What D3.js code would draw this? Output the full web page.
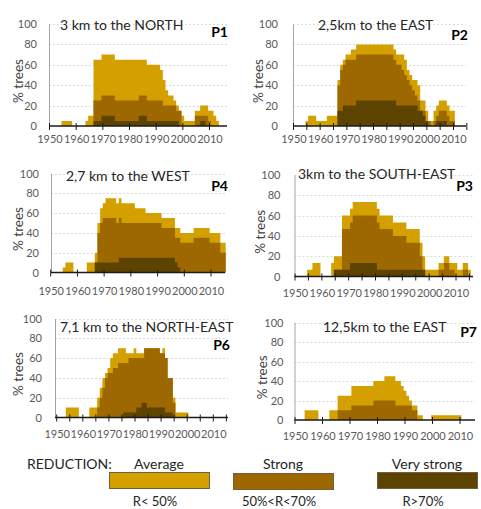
<!DOCTYPE html>
<html>
<head>
<meta charset="utf-8">
<script src="https://cdn.jsdelivr.net/npm/d3@7"></script>
<style>
  body { margin: 0; background: #fff; }
  svg text { font-family: Lato, "Open Sans", sans-serif; }
</style>
</head>
<body>
<div class="chart"></div>
<script>
// Step 0: data (% of trees per year, 1950-2015)
//= ================================
var years = [
  1950, 1951, 1952, 1953, 1954, 1955, 1956, 1957, 1958, 1959,
  1960, 1961, 1962, 1963, 1964, 1965, 1966, 1967, 1968, 1969,
  1970, 1971, 1972, 1973, 1974, 1975, 1976, 1977, 1978, 1979,
  1980, 1981, 1982, 1983, 1984, 1985, 1986, 1987, 1988, 1989,
  1990, 1991, 1992, 1993, 1994, 1995, 1996, 1997, 1998, 1999,
  2000, 2001, 2002, 2003, 2004, 2005, 2006, 2007, 2008, 2009,
  2010, 2011, 2012, 2013, 2014, 2015];

var xTickLabels = [1950, 1960, 1970, 1980, 1990, 2000, 2010];
var decadeMarks = [1950, 1960, 1970, 1980, 1990, 2000, 2010];
var fiveYearMarks = [1950, 1955, 1960, 1965, 1970, 1975, 1980, 1985, 1990, 1995, 2000, 2005, 2010, 2015];
var yTickLabels = [0, 20, 40, 60, 80, 100];

// P1 - 3 km to the NORTH
var p1Average = [
  0, 0, 0, 0, 0, 5, 5, 5, 5, 0,
  0, 0, 0, 0, 5, 10, 10, 65, 65, 65,
  70, 70, 70, 70, 70, 65, 65, 65, 65, 65,
  65, 65, 65, 65, 65, 65, 65, 60, 60, 60,
  60, 60, 55, 45, 35, 30, 30, 25, 20, 15,
  10, 5, 5, 5, 5, 15, 15, 20, 20, 20,
  15, 15, 10, 5, 0, 0];
var p1Strong = [
  0, 0, 0, 0, 0, 0, 0, 0, 0, 0,
  0, 0, 0, 0, 0, 0, 0, 25, 25, 25,
  30, 30, 30, 30, 30, 25, 25, 25, 25, 25,
  25, 25, 25, 25, 30, 30, 30, 25, 25, 25,
  25, 25, 25, 20, 20, 20, 20, 20, 15, 15,
  0, 0, 0, 0, 0, 10, 10, 10, 10, 10,
  5, 0, 0, 0, 0, 0];
var p1VeryStrong = [
  0, 0, 0, 0, 0, 0, 0, 0, 0, 0,
  0, 0, 0, 0, 0, 0, 0, 5, 5, 5,
  10, 10, 10, 10, 10, 5, 5, 5, 5, 5,
  5, 5, 5, 5, 10, 10, 10, 5, 5, 5,
  5, 5, 5, 5, 5, 5, 5, 5, 5, 0,
  0, 0, 0, 0, 0, 0, 0, 5, 5, 0,
  0, 0, 0, 0, 0, 0];

// P2 - 2,5km to the EAST
var p2Average = [
  0, 0, 0, 0, 0, 5, 10, 10, 10, 5,
  5, 5, 5, 10, 10, 10, 10, 45, 60, 65,
  70, 70, 75, 75, 80, 80, 80, 80, 80, 80,
  80, 80, 80, 80, 80, 80, 80, 80, 75, 70,
  70, 70, 65, 55, 50, 45, 45, 40, 25, 25,
  15, 5, 5, 15, 20, 25, 25, 25, 20, 15,
  15, 0, 0, 0, 0, 0];
var p2Strong = [
  0, 0, 0, 0, 0, 0, 0, 0, 0, 0,
  0, 0, 0, 0, 0, 0, 0, 40, 55, 60,
  65, 65, 65, 65, 70, 70, 70, 70, 70, 70,
  70, 70, 70, 70, 70, 70, 70, 70, 65, 60,
  60, 55, 50, 45, 40, 35, 30, 25, 15, 15,
  5, 5, 0, 5, 10, 15, 15, 15, 10, 5,
  5, 0, 0, 0, 0, 0];
var p2VeryStrong = [
  0, 0, 0, 0, 0, 0, 0, 0, 0, 0,
  0, 0, 0, 0, 0, 0, 0, 15, 15, 20,
  20, 20, 20, 20, 25, 25, 25, 25, 25, 25,
  25, 25, 25, 25, 25, 25, 25, 25, 25, 20,
  20, 20, 20, 20, 20, 20, 20, 15, 15, 10,
  5, 0, 0, 0, 5, 5, 5, 5, 0, 0,
  0, 0, 0, 0, 0, 0];

// P4 - 2,7 km to the WEST
var p4Average = [
  0, 0, 0, 0, 0, 5, 10, 10, 10, 0,
  0, 0, 0, 0, 10, 10, 10, 20, 50, 65,
  70, 75, 75, 75, 75, 70, 75, 70, 70, 70,
  70, 70, 65, 65, 65, 65, 60, 60, 60, 60,
  60, 60, 55, 55, 55, 55, 55, 45, 45, 40,
  40, 40, 40, 40, 45, 45, 45, 45, 45, 45,
  40, 40, 40, 40, 30, 30];
var p4Strong = [
  0, 0, 0, 0, 0, 0, 0, 0, 0, 0,
  0, 0, 0, 0, 0, 0, 0, 10, 40, 50,
  55, 55, 55, 55, 55, 50, 55, 50, 50, 50,
  50, 50, 50, 50, 50, 50, 50, 50, 50, 50,
  50, 50, 45, 45, 45, 45, 45, 35, 35, 30,
  30, 30, 30, 30, 35, 35, 35, 35, 35, 35,
  30, 30, 30, 30, 20, 20];
var p4VeryStrong = [
  0, 0, 0, 0, 0, 0, 0, 0, 0, 0,
  0, 0, 0, 0, 0, 0, 0, 10, 10, 10,
  10, 10, 10, 10, 10, 10, 15, 15, 15, 15,
  15, 15, 15, 15, 15, 15, 15, 15, 15, 15,
  15, 15, 15, 15, 15, 15, 15, 10, 5, 0,
  0, 0, 0, 0, 0, 0, 0, 0, 0, 0,
  0, 0, 0, 0, 0, 0];

// P3 - 3km to the SOUTH-EAST (steps of one tree in fifteen)
var p3Average = [
  0, 0, 0, 0, 0, 6.7, 6.7, 13.3, 13.3, 13.3,
  0, 0, 0, 0, 13.3, 20, 20, 20, 60, 60,
  60, 66.7, 73.3, 73.3, 73.3, 73.3, 73.3, 73.3, 73.3, 73.3,
  73.3, 66.7, 60, 60, 60, 60, 60, 53.3, 53.3, 53.3,
  53.3, 53.3, 46.7, 46.7, 46.7, 46.7, 46.7, 33.3, 20, 6.7,
  6.7, 6.7, 6.7, 6.7, 13.3, 13.3, 20, 20, 13.3, 13.3,
  13.3, 6.7, 6.7, 13.3, 13.3, 6.7];
var p3Strong = [
  0, 0, 0, 0, 0, 0, 0, 0, 0, 0,
  0, 0, 0, 0, 0, 6.7, 6.7, 6.7, 46.7, 46.7,
  46.7, 53.3, 60, 60, 60, 60, 60, 60, 60, 60,
  60, 53.3, 46.7, 46.7, 46.7, 46.7, 46.7, 40, 40, 40,
  40, 40, 33.3, 33.3, 33.3, 33.3, 33.3, 20, 6.7, 0,
  0, 0, 0, 0, 6.7, 6.7, 13.3, 13.3, 6.7, 6.7,
  0, 0, 0, 6.7, 6.7, 0];
var p3VeryStrong = [
  0, 0, 0, 0, 0, 0, 0, 0, 0, 0,
  0, 0, 0, 0, 0, 6.7, 6.7, 6.7, 6.7, 6.7,
  6.7, 13.3, 13.3, 13.3, 13.3, 13.3, 13.3, 13.3, 13.3, 13.3,
  13.3, 6.7, 6.7, 6.7, 6.7, 6.7, 6.7, 6.7, 6.7, 6.7,
  6.7, 6.7, 6.7, 6.7, 6.7, 6.7, 6.7, 6.7, 6.7, 0,
  0, 0, 0, 0, 0, 0, 0, 0, 0, 0,
  0, 0, 0, 0, 0, 0];

// P6 - 7,1 km to the NORTH-EAST
var p6Average = [
  0, 0, 0, 0, 10, 10, 10, 10, 10, 0,
  0, 0, 0, 10, 10, 10, 20, 30, 40, 45,
  50, 60, 65, 65, 70, 70, 70, 65, 65, 65,
  70, 65, 65, 65, 70, 70, 70, 70, 70, 70,
  65, 70, 60, 40, 40, 20, 5, 5, 5, 5,
  5, 0, 0, 0, 0, 0, 0, 0, 0, 0,
  0, 0, 0, 0, 0, 0];
var p6Strong = [
  0, 0, 0, 0, 0, 0, 0, 0, 0, 0,
  0, 0, 0, 0, 0, 0, 10, 20, 30, 40,
  45, 45, 50, 50, 55, 55, 55, 55, 60, 60,
  60, 60, 60, 60, 70, 70, 70, 70, 70, 70,
  65, 65, 60, 40, 40, 15, 0, 0, 0, 0,
  0, 0, 0, 0, 0, 0, 0, 0, 0, 0,
  0, 0, 0, 0, 0, 0];
var p6VeryStrong = [
  0, 0, 0, 0, 0, 0, 0, 0, 0, 0,
  0, 0, 0, 0, 0, 0, 0, 0, 0, 0,
  0, 0, 0, 0, 0, 0, 5, 5, 5, 5,
  5, 10, 10, 15, 15, 10, 10, 10, 10, 10,
  10, 10, 5, 5, 5, 0, 0, 0, 0, 0,
  0, 0, 0, 0, 0, 0, 0, 0, 0, 0,
  0, 0, 0, 0, 0, 0];

// P7 - 12,5km to the EAST
var p7Average = [
  0, 0, 0, 0, 10, 10, 10, 10, 10, 0,
  0, 0, 0, 10, 10, 10, 25, 25, 25, 25,
  25, 35, 35, 35, 35, 35, 35, 35, 35, 40,
  40, 40, 40, 45, 45, 45, 45, 40, 40, 35,
  30, 25, 20, 15, 15, 5, 5, 0, 0, 0,
  5, 5, 5, 5, 5, 5, 5, 5, 5, 5,
  5, 0, 0, 0, 0, 0];
var p7Strong = [
  0, 0, 0, 0, 0, 0, 0, 0, 0, 0,
  0, 0, 0, 0, 0, 0, 10, 10, 10, 10,
  10, 15, 15, 15, 15, 15, 15, 15, 15, 20,
  20, 20, 20, 20, 20, 20, 20, 15, 15, 15,
  15, 15, 15, 10, 10, 0, 0, 0, 0, 0,
  0, 0, 0, 0, 0, 0, 0, 0, 0, 0,
  0, 0, 0, 0, 0, 0];
var p7VeryStrong = [
  0, 0, 0, 0, 0, 0, 0, 0, 0, 0,
  0, 0, 0, 0, 0, 0, 0, 0, 0, 0,
  0, 0, 0, 0, 0, 0, 0, 0, 0, 0,
  0, 0, 0, 0, 0, 0, 0, 0, 0, 0,
  0, 0, 0, 0, 0, 0, 0, 0, 0, 0,
  0, 0, 0, 0, 0, 0, 0, 0, 0, 0,
  0, 0, 0, 0, 0, 0];

var legendNames = ["Average", "Strong", "Very strong"];
var legendRanges = ["R< 50%", "50%<R<70%", "R>70%"];

// colours of the three reduction classes
var classColors = ["#D3A000", "#9E6800", "#5C4300"];

// panel list, with where each one sits on the page
var panels = [
  { tag: "P1", title: "3 km to the NORTH", series: [p1Average, p1Strong, p1VeryStrong], marks: decadeMarks,
    x1950: 49.5, x2010: 209.5, axisX: 49, xEnd: 227, yTop: 24, yBase: 126,
    titleX: 60, titleY: 30, tagX: 228, tagY: 37, yPad: 12, xPad: 9, yLabelX: 18 },
  { tag: "P2", title: "2,5km to the EAST", series: [p2Average, p2Strong, p2VeryStrong], marks: fiveYearMarks,
    x1950: 293.5, x2010: 453.5, axisX: 293, xEnd: 466, yTop: 24, yBase: 126,
    titleX: 318, titleY: 30, tagX: 468, tagY: 40, yPad: 15, xPad: 9, yLabelX: 258 },
  { tag: "P4", title: "2,7 km to the WEST", series: [p4Average, p4Strong, p4VeryStrong], marks: decadeMarks,
    x1950: 50.7, x2010: 211, axisX: 51, xEnd: 225, yTop: 173.5, yBase: 272.5,
    titleX: 66, titleY: 181, tagX: 228, tagY: 191, yPad: 12, xPad: 15, yLabelX: 18 },
  { tag: "P3", title: "3km to the SOUTH-EAST", series: [p3Average, p3Strong, p3VeryStrong], marks: fiveYearMarks,
    x1950: 295, x2010: 456, axisX: 294.5, xEnd: 473, yTop: 175, yBase: 276.5,
    titleX: 298, titleY: 179, tagX: 473, tagY: 191, yPad: 14, xPad: 13, yLabelX: 260 },
  { tag: "P6", title: "7,1 km to the NORTH-EAST", series: [p6Average, p6Strong, p6VeryStrong], marks: fiveYearMarks,
    x1950: 56.7, x2010: 213.3, axisX: 55, xEnd: 228, yTop: 318.5, yBase: 417.5,
    titleX: 60, titleY: 332, tagX: 230, tagY: 350, yPad: 13, xPad: 13, yLabelX: 18 },
  { tag: "P7", title: "12,5km to the EAST", series: [p7Average, p7Strong, p7VeryStrong], marks: decadeMarks,
    x1950: 295, x2010: 460, axisX: 294.5, xEnd: 475, yTop: 322.5, yBase: 420,
    titleX: 323, titleY: 332, tagX: 477, tagY: 337, yPad: 11, xPad: 12, yLabelX: 262 }
];

var svgWidth = 481;
var svgHeight = 509;

var svg = d3.select(".chart")
  .append("svg")
  .attr("width", svgWidth)
  .attr("height", svgHeight);

panels.forEach(drawPanel);
drawLegend();

function drawPanel(p) {
  var xScale = d3.scaleLinear().domain([1950, 2010]).range([p.x1950, p.x2010]);
  var yScale = d3.scaleLinear().domain([0, 100]).range([p.yBase, p.yTop]);
  var chart = svg.append("g").attr("class", "panel-" + p.tag);

  // dotted grid lines
  chart.selectAll(".grid")
    .data(yTickLabels.slice(1))
    .enter()
    .append("line")
    .attr("class", "grid")
    .attr("x1", p.axisX)
    .attr("x2", p.xEnd)
    .attr("y1", function (d) { return Math.round(yScale(d)) + 0.5; })
    .attr("y2", function (d) { return Math.round(yScale(d)) + 0.5; })
    .attr("stroke", "#d9d9d9")
    .attr("stroke-dasharray", "2,2");

  // one step area per reduction class, each year a bar centred on its year
  var area = d3.area()
    .curve(d3.curveStepAfter)
    .x(function (d) { return xScale(d[0]); })
    .y0(yScale(0))
    .y1(function (d) { return yScale(d[1]); });

  p.series.forEach(function (values, k) {
    var pts = years.map(function (yr, i) { return [yr - 0.5, values[i]]; });
    pts.push([years[years.length - 1] + 0.5, 0]);
    chart.append("path")
      .attr("d", area(pts))
      .attr("fill", classColors[k]);
  });

  // y-axis
  var yAxis = chart.append("g")
    .attr("transform", "translate(" + p.axisX + ",0)")
    .call(d3.axisLeft(yScale).tickValues(yTickLabels).tickSize(0).tickPadding(p.yPad));
  yAxis.select(".domain").attr("stroke", "#a6a6a6");
  yAxis.selectAll("text").attr("fill", "#595959").attr("font-size", "11px");

  // x-axis: labels from the axis, baseline and marks drawn across it
  var xAxis = chart.append("g")
    .attr("transform", "translate(0," + p.yBase + ")")
    .call(d3.axisBottom(xScale).tickValues(xTickLabels).tickFormat(d3.format("d")).tickSize(0).tickPadding(p.xPad));
  xAxis.select(".domain").remove();
  xAxis.selectAll("text").attr("fill", "#595959").attr("font-size", "11px");

  chart.append("line")
    .attr("x1", p.axisX)
    .attr("x2", p.xEnd)
    .attr("y1", p.yBase)
    .attr("y2", p.yBase)
    .attr("stroke", "#1a1a1a")
    .attr("stroke-width", 1.3);

  chart.selectAll(".mark")
    .data(p.marks)
    .enter()
    .append("line")
    .attr("class", "mark")
    .attr("x1", function (d) { return xScale(d); })
    .attr("x2", function (d) { return xScale(d); })
    .attr("y1", p.yBase - 3)
    .attr("y2", p.yBase + 4)
    .attr("stroke", "#1a1a1a")
    .attr("stroke-width", 1);

  // axis title
  chart.append("text")
    .attr("transform", "translate(" + p.yLabelX + "," + ((p.yTop + p.yBase) / 2 + 6) + ")rotate(-90)")
    .attr("text-anchor", "middle")
    .attr("dominant-baseline", "central")
    .attr("font-size", "13.5px")
    .attr("fill", "#404040")
    .text("% trees");

  // site title and tag
  chart.append("text")
    .attr("x", p.titleX)
    .attr("y", p.titleY)
    .attr("font-size", "14px")
    .attr("fill", "#262626")
    .text(p.title);

  chart.append("text")
    .attr("x", p.tagX)
    .attr("y", p.tagY)
    .attr("text-anchor", "end")
    .attr("font-size", "14px")
    .attr("font-weight", "bold")
    .attr("fill", "#000")
    .text(p.tag);
}

function drawLegend() {
  var legend = svg.append("g").attr("class", "legend");
  var boxX = [109, 233, 377];
  var boxW = 100;

  legend.append("text")
    .attr("x", 27)
    .attr("y", 469)
    .attr("font-size", "14px")
    .attr("fill", "#262626")
    .text("REDUCTION:");

  legendNames.forEach(function (name, i) {
    legend.append("text")
      .attr("x", boxX[i] + boxW / 2)
      .attr("y", 469)
      .attr("text-anchor", "middle")
      .attr("font-size", "14px")
      .attr("fill", "#262626")
      .text(name);

    legend.append("rect")
      .attr("x", boxX[i] + 0.5)
      .attr("y", 472.5 + (i === 1 ? 1 : 0))
      .attr("width", boxW)
      .attr("height", 16)
      .attr("fill", classColors[i])
      .attr("stroke", "#6e6040")
      .attr("stroke-width", 1);

    // range labels sit at the very bottom edge, as in the picture
    legend.append("text")
      .attr("x", boxX[i] + boxW / 2 - 4)
      .attr("y", 506)
      .attr("text-anchor", "middle")
      .attr("font-size", "13px")
      .attr("fill", "#262626")
      .text(legendRanges[i]);
  });
}
</script>
</body>
</html>
